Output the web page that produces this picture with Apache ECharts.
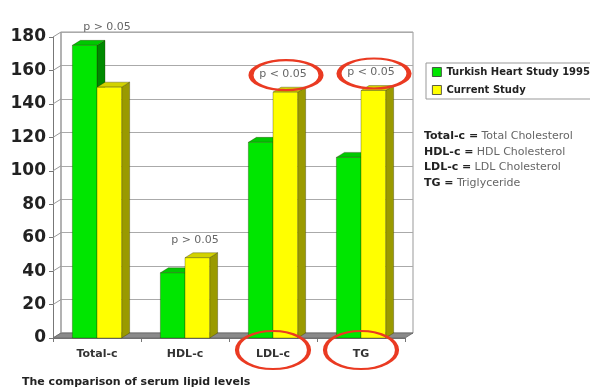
<!DOCTYPE html>
<html>
<head>
<meta charset="utf-8">
<script src="https://cdn.jsdelivr.net/npm/echarts@6/dist/echarts.min.js"></script>
<style>html,body{margin:0;padding:0;background:#fff;}#chart{width:590px;height:389px;}</style>
</head>
<body>
<div id="chart"></div>
<script>
// ---- data ----
const categories = ['Total-c', 'HDL-c', 'LDL-c', 'TG'];
const turkish1995 = [175, 39, 117, 108];
const currentStudy = [150, 48, 147, 148];
const pLabels = ['p > 0.05', 'p > 0.05', 'p < 0.05', 'p < 0.05'];
const yTicks = [0, 20, 40, 60, 80, 100, 120, 140, 160, 180];
const seriesNames = ['Turkish Heart Study 1995', 'Current Study'];
const titleText = 'The comparison of serum lipid levels';
const definitions = [
  ['Total-c', 'Total Cholesterol'],
  ['HDL-c', 'HDL Cholesterol'],
  ['LDL-c', 'LDL Cholesterol'],
  ['TG', 'Triglyceride']
];

// ---- style ----
const FONT = 'DejaVu Sans';
const DX = 8, DY = 5;
const RED = '#ea3a22';
const palette = [
  { front: '#00e600', side: '#008a00', top: '#00c800' },
  { front: '#ffff00', side: '#9a9a00', top: '#d2d200' }
];

const chart = echarts.init(document.getElementById('chart'), null, { renderer: 'canvas' });

function barRenderer(which) {
  return function (params, api) {
    const idx = api.value(0);
    const c = api.coord([idx, api.value(1)]);
    const base = api.coord([idx, 0]);
    const band = api.size([1, 0])[0];
    const w = band * 0.28;
    const x0 = which === 0 ? c[0] - w : c[0];
    const x1 = x0 + w;
    const top = c[1], bot = base[1];
    const col = palette[which];
    const stroke = 'rgba(40,40,0,0.55)';
    return {
      type: 'group',
      children: [
        { type: 'polygon', shape: { points: [[x1, top], [x1 + DX, top - DY], [x1 + DX, bot - DY], [x1, bot]] },
          style: { fill: col.side, stroke: stroke, lineWidth: 0.6 } },
        { type: 'polygon', shape: { points: [[x0, top], [x1, top], [x1 + DX, top - DY], [x0 + DX, top - DY]] },
          style: { fill: col.top, stroke: stroke, lineWidth: 0.6 } },
        { type: 'rect', shape: { x: x0, y: top, width: w, height: bot - top },
          style: { fill: col.front, stroke: stroke, lineWidth: 0.6 } }
      ]
    };
  };
}

const option = {
  animation: false,
  backgroundColor: '#fff',
  title: {
    text: titleText, left: 22, top: 377, padding: 0,
    textStyle: { fontFamily: FONT, fontWeight: 'bold', fontSize: 11, color: '#222' }
  },
  legend: {
    data: seriesNames,
    orient: 'vertical', left: 426, top: 63,
    padding: [4, 8, 4, 6], itemGap: 8, itemWidth: 9, itemHeight: 9,
    borderColor: '#999', borderWidth: 1,
    icon: 'rect',
    itemStyle: { borderColor: '#333', borderWidth: 0.8 },
    textStyle: { fontFamily: FONT, fontWeight: 'bold', fontSize: 10, color: '#222' }
  },
  grid: [
    { left: 53, right: 185, top: 37, bottom: 51 },
    { left: 61, right: 177, top: 32, bottom: 56, show: true, borderColor: '#999', borderWidth: 1, backgroundColor: 'transparent' }
  ],
  xAxis: [
    { type: 'category', gridIndex: 0, data: categories,
      axisLine: { lineStyle: { color: '#777' } },
      axisTick: { show: true, length: 4, lineStyle: { color: '#777' } },
      axisLabel: { margin: 11, fontFamily: FONT, fontWeight: 'bold', fontSize: 11, color: '#333' } },
    { type: 'category', gridIndex: 1, data: categories, show: false }
  ],
  yAxis: [
    { type: 'value', gridIndex: 0, min: 0, max: 180, interval: 20,
      axisLine: { show: true, lineStyle: { color: '#777' } },
      axisTick: { show: true, length: 4, lineStyle: { color: '#777' } },
      splitLine: { show: false },
      axisLabel: { margin: 7, fontFamily: FONT, fontWeight: 'bold', fontSize: 17, color: '#222' } },
    { type: 'value', gridIndex: 1, min: 0, max: 180, interval: 20,
      axisLine: { show: false }, axisTick: { show: false }, axisLabel: { show: false },
      splitLine: { show: true, lineStyle: { color: '#aaa', width: 1 } } }
  ],
  graphic: [
    {
      type: 'text', left: 424, top: 130,
      style: {
        text: definitions.map(d => '{b|' + d[0] + ' =} {n|' + d[1] + '}').join('\n'),
        rich: {
          b: { fontFamily: FONT, fontWeight: 'bold', fontSize: 11, fill: '#222', lineHeight: 15.7 },
          n: { fontFamily: FONT, fontSize: 11, fill: '#666', lineHeight: 15.7 }
        }
      }
    }
  ],
  series: [
    { // back-wall connectors and floor
      type: 'custom', xAxisIndex: 0, yAxisIndex: 0, z: 1, silent: true,
      data: yTicks.map(v => [0, v]),
      renderItem: function (params, api) {
        const cs = params.coordSys;
        const y = api.coord([0, api.value(1)])[1];
        const xl = cs.x, xr = cs.x + cs.width;
        const children = [
          { type: 'line', shape: { x1: xl, y1: y, x2: xl + DX, y2: y - DY }, style: { stroke: '#999', lineWidth: 1 } }
        ];
        if (api.value(1) === 0) {
          children.push({ type: 'polygon', shape: { points: [[xl, y], [xr, y], [xr + DX, y - DY], [xl + DX, y - DY]] },
            style: { fill: '#8a8a8a', stroke: '#666', lineWidth: 0.8 } });
          children.push({ type: 'line', shape: { x1: xl + DX, y1: y - DY, x2: xl + DX, y2: cs.y - DY }, style: { stroke: '#999', lineWidth: 1 } });
        }
        return { type: 'group', children: children };
      }
    },
    {
      name: seriesNames[0], type: 'custom', xAxisIndex: 0, yAxisIndex: 0, z: 2,
      itemStyle: { color: palette[0].front },
      data: turkish1995.map((v, i) => [i, v]),
      renderItem: barRenderer(0)
    },
    {
      name: seriesNames[1], type: 'custom', xAxisIndex: 0, yAxisIndex: 0, z: 3,
      itemStyle: { color: palette[1].front },
      data: currentStudy.map((v, i) => [i, v]),
      renderItem: barRenderer(1)
    },
    { // p-value annotations and highlight ellipses
      type: 'custom', xAxisIndex: 0, yAxisIndex: 0, z: 5, silent: true,
      data: categories.map((c, i) => [i, Math.max(turkish1995[i], currentStudy[i])]),
      renderItem: function (params, api) {
        const i = api.value(0);
        const c = api.coord([i, api.value(1)]);
        const base = api.coord([i, 0]);
        const tx = c[0] + 10, ty = Math.max(c[1] - 18, params.coordSys.y - 18);
        const children = [
          { type: 'text', x: tx, y: ty,
            style: { text: pLabels[i], fill: '#666', font: '11px "' + FONT + '"', align: 'center', verticalAlign: 'middle' } }
        ];
        if (pLabels[i].indexOf('<') >= 0) {
          children.push({ type: 'circle', x: tx + 3, y: ty + 1, scaleX: 35 / 15,
            shape: { cx: 0, cy: 0, r: 15 },
            style: { fill: 'none', stroke: RED, lineWidth: 2.2, strokeNoScale: true } });
          children.push({ type: 'circle', x: base[0], y: base[1] + 12, scaleX: 36 / 19,
            shape: { cx: 0, cy: 0, r: 19 },
            style: { fill: 'none', stroke: RED, lineWidth: 2.2, strokeNoScale: true } });
        }
        return { type: 'group', children: children };
      }
    }
  ]
};
chart.setOption(option);
</script>
</body>
</html>
